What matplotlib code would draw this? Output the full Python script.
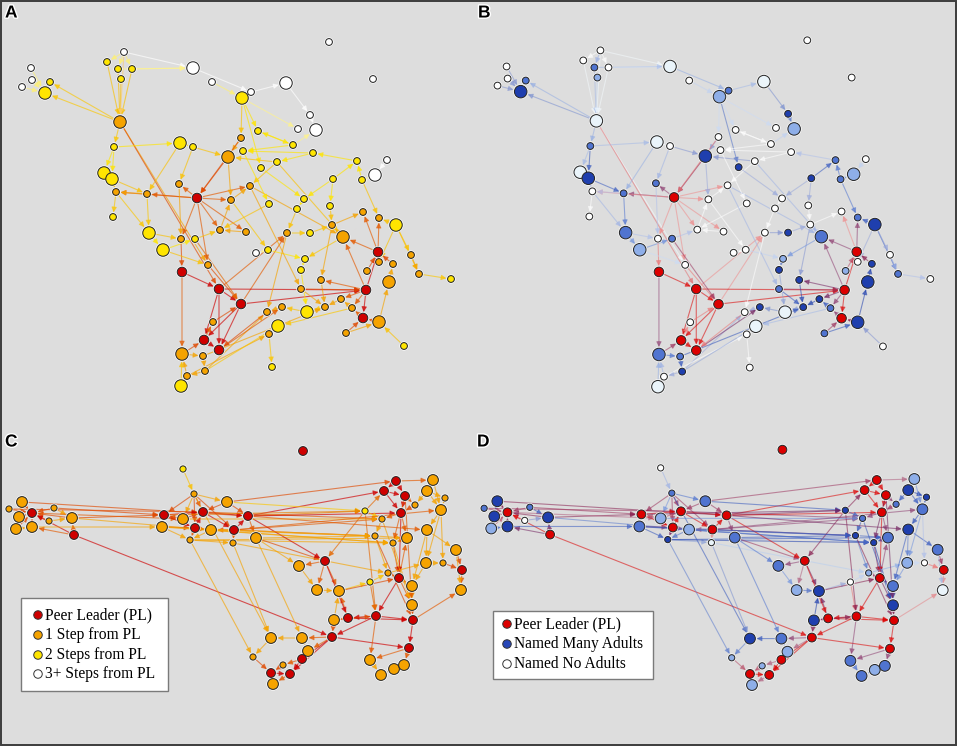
import matplotlib
matplotlib.use('Agg')
import matplotlib.pyplot as plt
import matplotlib.patheffects as pe
from matplotlib.patches import FancyArrowPatch, Rectangle
from matplotlib.colors import to_rgb

# --- top network (panels A and B), node ids start at 1 ---
top_x = [329, 373, 124, 107, 118, 132, 121, 193, 212, 286,
         251, 242, 31, 32, 22, 50, 45, 120, 310, 298,
         316, 258, 241, 180, 193, 114, 293, 313, 243, 228,
         277, 261, 357, 387, 375, 104, 112, 333, 362, 179,
         250, 116, 147, 197, 231, 269, 304, 297, 330, 363,
         379, 396, 113, 149, 163, 181, 195, 220, 246, 287,
         310, 332, 343, 256, 268, 305, 301, 378, 411, 379,
         393, 419, 451, 389, 367, 208, 182, 219, 321, 301,
         366, 241, 282, 307, 325, 341, 352, 267, 363, 379,
         278, 269, 346, 404, 213, 204, 219, 182, 203, 272,
         205, 187, 181]
top_y = [42, 79, 52, 62, 69, 69, 79, 68, 82, 83,
         92, 98, 68, 80, 87, 82, 93, 122, 115, 129,
         130, 131, 138, 143, 147, 147, 145, 153, 151, 157,
         162, 168, 161, 160, 175, 173, 179, 179, 180, 184,
         186, 192, 194, 198, 200, 204, 199, 209, 206, 212,
         218, 225, 217, 233, 250, 239, 239, 230, 232, 233,
         233, 225, 237, 253, 250, 259, 270, 252, 255, 262,
         264, 274, 279, 282, 271, 265, 272, 289, 280, 289,
         290, 304, 307, 312, 307, 299, 308, 312, 318, 322,
         326, 334, 333, 346, 322, 340, 350, 354, 356, 367,
         371, 376, 386]
top_size = list("sssssssLsL" "sLssssLLss" "LssLsssssL" "ssssLLLsss"
                "sssrssssss" "sLsLLsssss" "ssLssssrss" "sssLssrrss"
                "rrsLssssrL" "LssssrrLss" "ssL")
# steps from peer leader: 0 = PL, 1, 2, 3+
top_step = [3, 3, 3, 2, 2, 2, 2, 3, 3, 3,
            3, 2, 3, 3, 3, 2, 2, 1, 3, 3,
            3, 2, 1, 2, 2, 2, 2, 2, 2, 1,
            2, 2, 2, 3, 3, 2, 2, 2, 2, 1,
            1, 1, 1, 0, 1, 2, 2, 2, 2, 1,
            1, 2, 2, 2, 2, 1, 2, 1, 1, 1,
            2, 1, 1, 3, 2, 2, 2, 0, 1, 1,
            1, 1, 2, 1, 1, 1, 0, 0, 1, 1,
            0, 0, 1, 2, 1, 1, 1, 1, 0, 1,
            2, 1, 1, 2, 1, 0, 0, 1, 1, 2,
            1, 1, 2]
# adults named, 0 = none ... 4 = many
top_adults = [0, 0, 0, 0, 3, 0, 2, 1, 0, 1,
              3, 2, 0, 0, 0, 3, 4, 1, 4, 0,
              2, 0, 0, 1, 0, 3, 0, 0, 0, 4,
              0, 4, 3, 0, 2, 1, 4, 4, 3, 3,
              0, 0, 3, 0, 0, 0, 0, 0, 0, 0,
              3, 4, 0, 3, 2, 0, 3, 0, 0, 0,
              4, 0, 3, 0, 0, 2, 4, 0, 0, 0,
              4, 3, 0, 4, 2, 0, 0, 0, 4, 3,
              0, 0, 4, 1, 4, 4, 3, 0, 0, 4,
              1, 0, 3, 0, 0, 0, 0, 3, 3, 0,
              4, 0, 1]
top_edges = [(3, 8), (8, 11), (11, 10), (10, 19), (12, 20), (19, 21), (4, 18), (5, 18),
             (6, 18), (7, 18), (3, 18), (3, 4), (3, 5), (3, 6), (6, 8), (5, 8), (16, 17),
             (13, 17), (14, 17), (15, 17), (18, 17), (18, 16), (18, 26), (26, 36), (26, 37),
             (18, 76), (18, 78), (12, 23), (12, 32), (23, 30), (30, 44), (23, 44), (24, 25),
             (26, 24), (25, 30), (25, 40), (44, 40), (44, 43), (44, 42), (44, 45), (44, 41),
             (44, 58), (44, 59), (44, 56), (44, 76), (43, 42), (43, 54), (36, 37), (37, 42),
             (37, 43), (42, 53), (42, 54), (54, 55), (54, 56), (55, 57), (40, 56), (56, 77),
             (77, 98), (77, 78), (78, 82), (78, 96), (78, 97), (82, 96), (82, 97), (96, 97),
             (96, 95), (95, 82), (78, 60), (82, 60), (78, 81), (82, 81), (81, 68), (81, 89),
             (68, 50), (68, 51), (68, 63), (81, 63), (81, 79), (63, 62), (41, 63), (38, 47),
             (38, 49), (38, 33), (39, 33), (39, 51), (39, 35), (33, 28), (27, 21), (27, 29),
             (27, 22), (28, 29), (28, 31), (31, 30), (52, 51), (52, 70), (52, 72), (72, 73),
             (74, 71), (71, 68), (70, 68), (75, 68), (90, 89), (90, 74), (89, 87), (87, 86),
             (86, 85), (85, 84), (84, 83), (83, 88), (91, 92), (92, 100), (93, 90), (93, 89),
             (94, 90), (65, 66), (66, 67), (65, 64), (60, 61), (61, 62), (98, 99), (99, 101),
             (101, 102), (102, 98), (98, 96), (103, 102), (103, 98), (101, 88), (97, 83),
             (99, 85), (102, 92), (101, 91), (57, 58), (58, 45), (45, 41), (47, 48), (48, 60),
             (49, 62), (62, 50), (59, 58), (30, 45), (46, 58), (31, 41), (62, 79), (79, 85),
             (80, 85), (80, 81), (81, 86), (81, 87), (69, 72), (52, 69), (63, 66), (12, 22),
             (22, 27), (9, 12), (34, 35), (31, 63), (67, 84), (76, 82), (88, 97), (41, 80),
             (29, 46), (32, 47), (57, 82), (24, 43), (55, 76), (87, 91), (60, 88), (45, 65)]

# --- bottom network (panels C and D) ---
bot_x = [303, 183, 194, 227, 396, 433, 384, 427, 405, 445,
         415, 441, 401, 365, 382, 427, 375, 407, 393, 456,
         426, 443, 462, 388, 399, 370, 412, 461, 412, 413,
         376, 348, 334, 332, 325, 299, 317, 339, 409, 370,
         394, 404, 381, 271, 302, 308, 302, 253, 283, 271,
         290, 273, 248, 256, 234, 233, 211, 203, 195, 183,
         164, 162, 190, 22, 9, 32, 19, 16, 32, 54,
         49, 72, 74]
bot_y = [451, 469, 494, 502, 481, 480, 491, 491, 496, 498,
         505, 510, 513, 511, 519, 530, 536, 538, 543, 550,
         563, 563, 570, 573, 578, 582, 586, 590, 605, 620,
         616, 618, 620, 637, 561, 566, 590, 591, 648, 660,
         669, 665, 675, 638, 638, 651, 659, 657, 665, 673,
         674, 684, 516, 538, 530, 543, 530, 512, 528, 519,
         515, 527, 540, 502, 509, 513, 517, 529, 527, 508,
         521, 518, 535]
bot_size = list("rssLrLrLrs" "sLrssLsLsL" "LsrsrsLLLr" "rrLrrLLLrL"
                "LLLLLLrssr" "rLrLrsLrrL" "rLsLsrLLLs" "sLr")
bot_step = [0, 2, 1, 1, 0, 1, 0, 1, 0, 1,
            1, 1, 0, 2, 1, 1, 1, 1, 1, 1,
            1, 1, 0, 1, 0, 2, 1, 1, 1, 0,
            0, 0, 1, 0, 0, 1, 1, 1, 0, 1,
            1, 1, 1, 1, 1, 1, 0, 1, 1, 0,
            0, 1, 0, 1, 0, 1, 1, 0, 0, 1,
            0, 1, 1, 1, 1, 0, 1, 1, 1, 1,
            1, 1, 0]
bot_adults = [0, 0, 3, 3, 0, 2, 0, 4, 0, 4,
              3, 3, 0, 4, 3, 4, 4, 3, 4, 3,
              2, 0, 0, 2, 0, 0, 3, 1, 4, 0,
              0, 0, 4, 0, 0, 3, 2, 4, 0, 3,
              2, 3, 3, 4, 3, 2, 0, 2, 2, 0,
              0, 2, 0, 3, 0, 1, 2, 0, 0, 2,
              0, 3, 4, 4, 3, 0, 4, 2, 4, 3,
              0, 4, 0]
bot_edges = [(2, 3), (3, 4), (3, 58), (3, 59), (3, 55), (3, 61), (3, 60), (4, 5), (4, 58),
             (4, 53), (64, 66), (65, 66), (67, 66), (68, 66), (69, 66), (70, 66), (71, 66),
             (72, 66), (73, 66), (73, 69), (73, 72), (64, 67), (67, 68), (68, 69), (70, 72),
             (71, 72), (70, 61), (72, 61), (69, 62), (66, 60), (64, 53), (72, 57), (65, 58),
             (73, 34), (61, 58), (61, 59), (60, 58), (59, 58), (59, 57), (58, 55), (58, 53),
             (55, 53), (55, 57), (55, 56), (53, 54), (59, 63), (63, 56), (62, 59), (60, 61),
             (62, 63), (57, 63), (53, 7), (53, 14), (55, 17), (54, 17), (58, 15), (62, 19),
             (63, 18), (56, 24), (53, 13), (55, 15), (57, 17), (63, 19), (4, 14), (54, 36),
             (54, 35), (53, 35), (3, 44), (63, 48), (56, 44), (54, 45), (5, 6), (5, 7), (5, 9),
             (7, 9), (9, 13), (7, 13), (6, 8), (8, 10), (8, 12), (9, 11), (11, 13), (12, 16),
             (13, 18), (13, 15), (14, 35), (14, 15), (14, 7), (15, 17), (17, 18), (18, 19),
             (19, 25), (16, 21), (16, 20), (20, 23), (21, 22), (22, 23), (23, 28), (21, 27),
             (25, 27), (25, 24), (25, 31), (25, 29), (27, 29), (29, 30), (30, 39), (39, 42),
             (39, 40), (40, 43), (41, 42), (41, 43), (31, 32), (31, 34), (32, 33), (33, 34),
             (32, 38), (35, 36), (35, 37), (35, 38), (36, 37), (37, 38), (38, 26), (26, 24),
             (34, 45), (34, 47), (34, 46), (45, 44), (45, 46), (46, 47), (47, 51), (47, 49),
             (44, 48), (48, 50), (49, 50), (50, 51), (50, 52), (51, 52), (34, 39), (31, 30),
             (32, 30), (31, 40), (30, 28), (25, 18), (19, 29), (9, 19), (13, 25), (12, 22),
             (10, 12), (35, 32), (33, 38), (34, 51), (26, 31), (24, 21), (6, 12), (20, 28),
             (16, 27), (8, 11), (17, 24), (14, 31), (15, 29), (12, 21), (38, 25), (33, 31),
             (60, 15), (61, 14), (62, 17), (57, 19), (53, 16), (55, 12), (17, 30), (9, 29)]

BG = '#dddddd'
STEP_COLORS = ['#cf0000', '#f5a300', '#ffe500', '#ffffff']
ADULT_COLORS = ['#ffffff', '#eaf4fa', '#8eaee8', '#5074d0', '#1f3fae']
PL_RED_B = '#dc0000'
PX = 0.72  # points per pixel at dpi 100


def node_colors(step, adults, mode):
    if mode == 'step':
        return [STEP_COLORS[s] for s in step]
    return [PL_RED_B if s == 0 else ADULT_COLORS[a] for s, a in zip(step, adults)]


def draw_net(ax, xs, ys, sizes, colors, edges, diam, alpha):
    for a, b in edges:
        ca, cb = to_rgb(colors[a - 1]), to_rgb(colors[b - 1])
        mix = tuple(0.45 * u + 0.55 * v for u, v in zip(ca, cb))
        r_b = diam[sizes[b - 1]] / 2 * PX + 0.8
        arr = FancyArrowPatch((xs[a - 1], ys[a - 1]), (xs[b - 1], ys[b - 1]),
                              arrowstyle='-|>,head_length=0.5,head_width=0.25',
                              mutation_scale=6, color=mix, alpha=alpha, lw=0.8,
                              shrinkA=0, shrinkB=r_b, zorder=1)
        ax.add_patch(arr)
    d = [diam[s] for s in sizes]
    ax.scatter(xs, ys, s=[((v + 2.4) * PX) ** 2 for v in d], c='white',
               edgecolors='none', zorder=2)
    ax.scatter(xs, ys, s=[(v * PX) ** 2 for v in d], c=colors,
               edgecolors='#2a2a2a', linewidths=0.75, zorder=3)


fig = plt.figure(figsize=(9.57, 7.46), dpi=100)
fig.patch.set_facecolor(BG)
ax = fig.add_axes([0, 0, 1, 1])
ax.set_facecolor(BG)
ax.set_xlim(0, 957)
ax.set_ylim(746, 0)
ax.axis('off')

top_diam = {'s': 6.8, 'L': 12.5, 'r': 9.5}
bot_diam = {'s': 6.2, 'L': 10.8, 'r': 8.8}

# panel A / B
draw_net(ax, top_x, top_y, top_size, node_colors(top_step, top_adults, 'step'),
         top_edges, top_diam, 0.65)
bx = [475.3 + 1.009 * v for v in top_x]
by = [1.007 * v - 2 for v in top_y]
draw_net(ax, bx, by, top_size, node_colors(top_step, top_adults, 'adult'),
         top_edges, top_diam, 0.55)

# panel C / D
draw_net(ax, bot_x, bot_y, bot_size, node_colors(bot_step, bot_adults, 'step'),
         bot_edges, bot_diam, 0.65)
dx = [475 + 1.0146 * v for v in bot_x]
dy = [1.01 * v - 5.8 for v in bot_y]
draw_net(ax, dx, dy, bot_size, node_colors(bot_step, bot_adults, 'adult'),
         bot_edges, bot_diam, 0.55)

# panel letters
for lab, x, y in [('A', 5, 13), ('B', 478, 13), ('C', 5, 442), ('D', 477, 442)]:
    ax.text(x, y, lab, fontsize=12.5, fontweight='bold', family='Liberation Sans',
            ha='left', va='center', zorder=5,
            path_effects=[pe.withStroke(linewidth=2, foreground='white')])

# legends
leg_c_labels = ['Peer Leader (PL)', '1 Step from PL', '2 Steps from PL', '3+ Steps from PL']
leg_c_colors = STEP_COLORS
leg_d_labels = ['Peer Leader (PL)', 'Named Many Adults', 'Named No Adults']
leg_d_colors = [PL_RED_B, '#2747b8', '#ffffff']


def draw_legend(x0, y0, w, h, labels, colors, mx, tx, ys):
    ax.add_patch(Rectangle((x0, y0), w, h, facecolor='white', edgecolor='#7a7a7a',
                           lw=1.0, zorder=6))
    ax.scatter([mx] * len(labels), ys, s=(8.5 * PX) ** 2, c=colors,
               edgecolors='#333333', linewidths=0.7, zorder=7)
    for lab, yy in zip(labels, ys):
        ax.text(tx, yy, lab, fontsize=11.2, family='Liberation Serif',
                ha='left', va='center', zorder=7)


draw_legend(21, 598, 147, 93, leg_c_labels, leg_c_colors, 38, 45, [615, 635, 655, 674])
draw_legend(493, 611, 160, 68, leg_d_labels, leg_d_colors, 507, 514, [624, 644, 664])

# outer frame
ax.add_patch(Rectangle((0.7, 0.7), 955.6, 744.6, fill=False, edgecolor='#3c3c3c',
                       lw=1.4, zorder=8))

fig.savefig('out.png', dpi=100, facecolor=BG)
